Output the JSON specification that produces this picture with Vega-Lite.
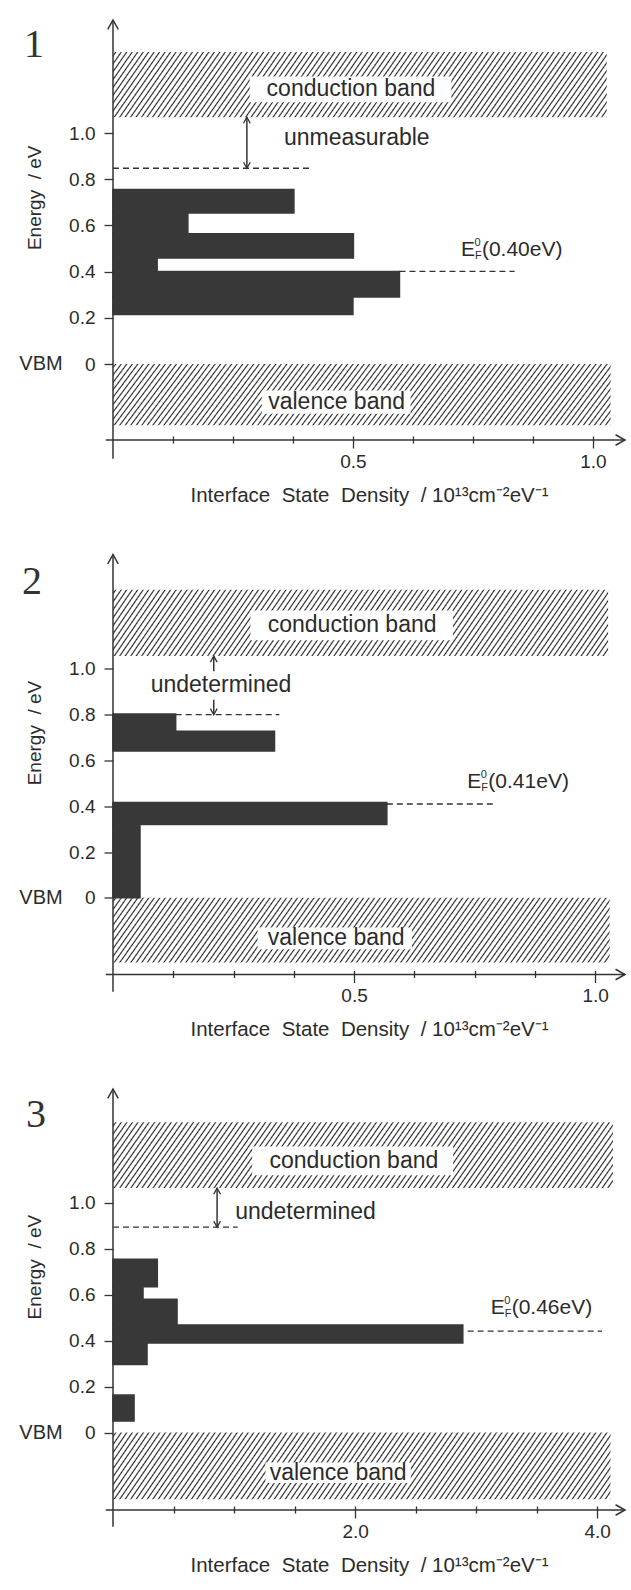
{
"$schema":"https://vega.github.io/schema/vega-lite/v6.json",
"padding":{"left":19,"top":17,"right":0,"bottom":0},
"bounds":"flush",
"spacing":114.5,
"config":{
 "view":{"stroke":null},
 "axis":{"domain":false,"grid":false,"tickColor":"#333","tickWidth":1.3,"labelColor":"#2b2b2b","labelFont":"Liberation Sans","labelFontSize":19,"titleFont":"Liberation Sans","titleFontWeight":"normal","titleColor":"#2b2b2b","titleFontSize":20.5},
 "axisX":{"tickSize":7,"offset":-4,"labelPadding":4,"titlePadding":14,"labelFontSize":19,"labelFlush":false,"labelOverlap":false},
 "axisY":{"tickSize":9,"labelPadding":9,"labelOverlap":false},
 "rect":{"stroke":null,"fill":{"gradient":"linear","x1":0,"y1":0,"x2":1.1,"y2":0.1011,"stops":[
{"offset":0.0026,"color":"#fff"},{"offset":0.005,"color":"#222"},{"offset":0.0074,"color":"#fff"},
{"offset":0.0126,"color":"#fff"},{"offset":0.015,"color":"#222"},{"offset":0.0174,"color":"#fff"},
{"offset":0.0226,"color":"#fff"},{"offset":0.025,"color":"#222"},{"offset":0.0274,"color":"#fff"},
{"offset":0.0326,"color":"#fff"},{"offset":0.035,"color":"#222"},{"offset":0.0374,"color":"#fff"},
{"offset":0.0426,"color":"#fff"},{"offset":0.045,"color":"#222"},{"offset":0.0474,"color":"#fff"},
{"offset":0.0526,"color":"#fff"},{"offset":0.055,"color":"#222"},{"offset":0.0574,"color":"#fff"},
{"offset":0.0626,"color":"#fff"},{"offset":0.065,"color":"#222"},{"offset":0.0674,"color":"#fff"},
{"offset":0.0726,"color":"#fff"},{"offset":0.075,"color":"#222"},{"offset":0.0774,"color":"#fff"},
{"offset":0.0826,"color":"#fff"},{"offset":0.085,"color":"#222"},{"offset":0.0874,"color":"#fff"},
{"offset":0.0926,"color":"#fff"},{"offset":0.095,"color":"#222"},{"offset":0.0974,"color":"#fff"},
{"offset":0.1026,"color":"#fff"},{"offset":0.105,"color":"#222"},{"offset":0.1074,"color":"#fff"},
{"offset":0.1126,"color":"#fff"},{"offset":0.115,"color":"#222"},{"offset":0.1174,"color":"#fff"},
{"offset":0.1226,"color":"#fff"},{"offset":0.125,"color":"#222"},{"offset":0.1274,"color":"#fff"},
{"offset":0.1326,"color":"#fff"},{"offset":0.135,"color":"#222"},{"offset":0.1374,"color":"#fff"},
{"offset":0.1426,"color":"#fff"},{"offset":0.145,"color":"#222"},{"offset":0.1474,"color":"#fff"},
{"offset":0.1526,"color":"#fff"},{"offset":0.155,"color":"#222"},{"offset":0.1574,"color":"#fff"},
{"offset":0.1626,"color":"#fff"},{"offset":0.165,"color":"#222"},{"offset":0.1674,"color":"#fff"},
{"offset":0.1726,"color":"#fff"},{"offset":0.175,"color":"#222"},{"offset":0.1774,"color":"#fff"},
{"offset":0.1826,"color":"#fff"},{"offset":0.185,"color":"#222"},{"offset":0.1874,"color":"#fff"},
{"offset":0.1926,"color":"#fff"},{"offset":0.195,"color":"#222"},{"offset":0.1974,"color":"#fff"},
{"offset":0.2026,"color":"#fff"},{"offset":0.205,"color":"#222"},{"offset":0.2074,"color":"#fff"},
{"offset":0.2126,"color":"#fff"},{"offset":0.215,"color":"#222"},{"offset":0.2174,"color":"#fff"},
{"offset":0.2226,"color":"#fff"},{"offset":0.225,"color":"#222"},{"offset":0.2274,"color":"#fff"},
{"offset":0.2326,"color":"#fff"},{"offset":0.235,"color":"#222"},{"offset":0.2374,"color":"#fff"},
{"offset":0.2426,"color":"#fff"},{"offset":0.245,"color":"#222"},{"offset":0.2474,"color":"#fff"},
{"offset":0.2526,"color":"#fff"},{"offset":0.255,"color":"#222"},{"offset":0.2574,"color":"#fff"},
{"offset":0.2626,"color":"#fff"},{"offset":0.265,"color":"#222"},{"offset":0.2674,"color":"#fff"},
{"offset":0.2726,"color":"#fff"},{"offset":0.275,"color":"#222"},{"offset":0.2774,"color":"#fff"},
{"offset":0.2826,"color":"#fff"},{"offset":0.285,"color":"#222"},{"offset":0.2874,"color":"#fff"},
{"offset":0.2926,"color":"#fff"},{"offset":0.295,"color":"#222"},{"offset":0.2974,"color":"#fff"},
{"offset":0.3026,"color":"#fff"},{"offset":0.305,"color":"#222"},{"offset":0.3074,"color":"#fff"},
{"offset":0.3126,"color":"#fff"},{"offset":0.315,"color":"#222"},{"offset":0.3174,"color":"#fff"},
{"offset":0.3226,"color":"#fff"},{"offset":0.325,"color":"#222"},{"offset":0.3274,"color":"#fff"},
{"offset":0.3326,"color":"#fff"},{"offset":0.335,"color":"#222"},{"offset":0.3374,"color":"#fff"},
{"offset":0.3426,"color":"#fff"},{"offset":0.345,"color":"#222"},{"offset":0.3474,"color":"#fff"},
{"offset":0.3526,"color":"#fff"},{"offset":0.355,"color":"#222"},{"offset":0.3574,"color":"#fff"},
{"offset":0.3626,"color":"#fff"},{"offset":0.365,"color":"#222"},{"offset":0.3674,"color":"#fff"},
{"offset":0.3726,"color":"#fff"},{"offset":0.375,"color":"#222"},{"offset":0.3774,"color":"#fff"},
{"offset":0.3826,"color":"#fff"},{"offset":0.385,"color":"#222"},{"offset":0.3874,"color":"#fff"},
{"offset":0.3926,"color":"#fff"},{"offset":0.395,"color":"#222"},{"offset":0.3974,"color":"#fff"},
{"offset":0.4026,"color":"#fff"},{"offset":0.405,"color":"#222"},{"offset":0.4074,"color":"#fff"},
{"offset":0.4126,"color":"#fff"},{"offset":0.415,"color":"#222"},{"offset":0.4174,"color":"#fff"},
{"offset":0.4226,"color":"#fff"},{"offset":0.425,"color":"#222"},{"offset":0.4274,"color":"#fff"},
{"offset":0.4326,"color":"#fff"},{"offset":0.435,"color":"#222"},{"offset":0.4374,"color":"#fff"},
{"offset":0.4426,"color":"#fff"},{"offset":0.445,"color":"#222"},{"offset":0.4474,"color":"#fff"},
{"offset":0.4526,"color":"#fff"},{"offset":0.455,"color":"#222"},{"offset":0.4574,"color":"#fff"},
{"offset":0.4626,"color":"#fff"},{"offset":0.465,"color":"#222"},{"offset":0.4674,"color":"#fff"},
{"offset":0.4726,"color":"#fff"},{"offset":0.475,"color":"#222"},{"offset":0.4774,"color":"#fff"},
{"offset":0.4826,"color":"#fff"},{"offset":0.485,"color":"#222"},{"offset":0.4874,"color":"#fff"},
{"offset":0.4926,"color":"#fff"},{"offset":0.495,"color":"#222"},{"offset":0.4974,"color":"#fff"},
{"offset":0.5026,"color":"#fff"},{"offset":0.505,"color":"#222"},{"offset":0.5074,"color":"#fff"},
{"offset":0.5126,"color":"#fff"},{"offset":0.515,"color":"#222"},{"offset":0.5174,"color":"#fff"},
{"offset":0.5226,"color":"#fff"},{"offset":0.525,"color":"#222"},{"offset":0.5274,"color":"#fff"},
{"offset":0.5326,"color":"#fff"},{"offset":0.535,"color":"#222"},{"offset":0.5374,"color":"#fff"},
{"offset":0.5426,"color":"#fff"},{"offset":0.545,"color":"#222"},{"offset":0.5474,"color":"#fff"},
{"offset":0.5526,"color":"#fff"},{"offset":0.555,"color":"#222"},{"offset":0.5574,"color":"#fff"},
{"offset":0.5626,"color":"#fff"},{"offset":0.565,"color":"#222"},{"offset":0.5674,"color":"#fff"},
{"offset":0.5726,"color":"#fff"},{"offset":0.575,"color":"#222"},{"offset":0.5774,"color":"#fff"},
{"offset":0.5826,"color":"#fff"},{"offset":0.585,"color":"#222"},{"offset":0.5874,"color":"#fff"},
{"offset":0.5926,"color":"#fff"},{"offset":0.595,"color":"#222"},{"offset":0.5974,"color":"#fff"},
{"offset":0.6026,"color":"#fff"},{"offset":0.605,"color":"#222"},{"offset":0.6074,"color":"#fff"},
{"offset":0.6126,"color":"#fff"},{"offset":0.615,"color":"#222"},{"offset":0.6174,"color":"#fff"},
{"offset":0.6226,"color":"#fff"},{"offset":0.625,"color":"#222"},{"offset":0.6274,"color":"#fff"},
{"offset":0.6326,"color":"#fff"},{"offset":0.635,"color":"#222"},{"offset":0.6374,"color":"#fff"},
{"offset":0.6426,"color":"#fff"},{"offset":0.645,"color":"#222"},{"offset":0.6474,"color":"#fff"},
{"offset":0.6526,"color":"#fff"},{"offset":0.655,"color":"#222"},{"offset":0.6574,"color":"#fff"},
{"offset":0.6626,"color":"#fff"},{"offset":0.665,"color":"#222"},{"offset":0.6674,"color":"#fff"},
{"offset":0.6726,"color":"#fff"},{"offset":0.675,"color":"#222"},{"offset":0.6774,"color":"#fff"},
{"offset":0.6826,"color":"#fff"},{"offset":0.685,"color":"#222"},{"offset":0.6874,"color":"#fff"},
{"offset":0.6926,"color":"#fff"},{"offset":0.695,"color":"#222"},{"offset":0.6974,"color":"#fff"},
{"offset":0.7026,"color":"#fff"},{"offset":0.705,"color":"#222"},{"offset":0.7074,"color":"#fff"},
{"offset":0.7126,"color":"#fff"},{"offset":0.715,"color":"#222"},{"offset":0.7174,"color":"#fff"},
{"offset":0.7226,"color":"#fff"},{"offset":0.725,"color":"#222"},{"offset":0.7274,"color":"#fff"},
{"offset":0.7326,"color":"#fff"},{"offset":0.735,"color":"#222"},{"offset":0.7374,"color":"#fff"},
{"offset":0.7426,"color":"#fff"},{"offset":0.745,"color":"#222"},{"offset":0.7474,"color":"#fff"},
{"offset":0.7526,"color":"#fff"},{"offset":0.755,"color":"#222"},{"offset":0.7574,"color":"#fff"},
{"offset":0.7626,"color":"#fff"},{"offset":0.765,"color":"#222"},{"offset":0.7674,"color":"#fff"},
{"offset":0.7726,"color":"#fff"},{"offset":0.775,"color":"#222"},{"offset":0.7774,"color":"#fff"},
{"offset":0.7826,"color":"#fff"},{"offset":0.785,"color":"#222"},{"offset":0.7874,"color":"#fff"},
{"offset":0.7926,"color":"#fff"},{"offset":0.795,"color":"#222"},{"offset":0.7974,"color":"#fff"},
{"offset":0.8026,"color":"#fff"},{"offset":0.805,"color":"#222"},{"offset":0.8074,"color":"#fff"},
{"offset":0.8126,"color":"#fff"},{"offset":0.815,"color":"#222"},{"offset":0.8174,"color":"#fff"},
{"offset":0.8226,"color":"#fff"},{"offset":0.825,"color":"#222"},{"offset":0.8274,"color":"#fff"},
{"offset":0.8326,"color":"#fff"},{"offset":0.835,"color":"#222"},{"offset":0.8374,"color":"#fff"},
{"offset":0.8426,"color":"#fff"},{"offset":0.845,"color":"#222"},{"offset":0.8474,"color":"#fff"},
{"offset":0.8526,"color":"#fff"},{"offset":0.855,"color":"#222"},{"offset":0.8574,"color":"#fff"},
{"offset":0.8626,"color":"#fff"},{"offset":0.865,"color":"#222"},{"offset":0.8674,"color":"#fff"},
{"offset":0.8726,"color":"#fff"},{"offset":0.875,"color":"#222"},{"offset":0.8774,"color":"#fff"},
{"offset":0.8826,"color":"#fff"},{"offset":0.885,"color":"#222"},{"offset":0.8874,"color":"#fff"},
{"offset":0.8926,"color":"#fff"},{"offset":0.895,"color":"#222"},{"offset":0.8974,"color":"#fff"},
{"offset":0.9026,"color":"#fff"},{"offset":0.905,"color":"#222"},{"offset":0.9074,"color":"#fff"},
{"offset":0.9126,"color":"#fff"},{"offset":0.915,"color":"#222"},{"offset":0.9174,"color":"#fff"},
{"offset":0.9226,"color":"#fff"},{"offset":0.925,"color":"#222"},{"offset":0.9274,"color":"#fff"},
{"offset":0.9326,"color":"#fff"},{"offset":0.935,"color":"#222"},{"offset":0.9374,"color":"#fff"},
{"offset":0.9426,"color":"#fff"},{"offset":0.945,"color":"#222"},{"offset":0.9474,"color":"#fff"},
{"offset":0.9526,"color":"#fff"},{"offset":0.955,"color":"#222"},{"offset":0.9574,"color":"#fff"},
{"offset":0.9626,"color":"#fff"},{"offset":0.965,"color":"#222"},{"offset":0.9674,"color":"#fff"},
{"offset":0.9726,"color":"#fff"},{"offset":0.975,"color":"#222"},{"offset":0.9774,"color":"#fff"},
{"offset":0.9826,"color":"#fff"},{"offset":0.985,"color":"#222"},{"offset":0.9874,"color":"#fff"}
]}}
},
"vconcat":[
{
"width":512,"height":420,
"encoding":{
 "x":{"field":"x1","type":"quantitative","scale":{"domain":[0,1.067],"nice":false,"zero":false},"axis":{"values":[0.125,0.25,0.375,0.5,0.625,0.75,0.875,1],"tickSize":{"condition":{"test":"datum.value == 0.5 || datum.value == 1","value":12},"value":7},"labelExpr":"(datum.value == 0.5 || datum.value == 1) ? format(datum.value, '.1f') : ''","title":"Interface\u00a0 State\u00a0 Density\u00a0 /\u00a010¹³cm⁻²eV⁻¹"}},
 "y":{"field":"y1","type":"quantitative","scale":{"domain":[-0.329,1.49],"nice":false,"zero":false},"axis":{"values":[0,0.2,0.4,0.6,0.8,1],"labelExpr":"datum.value == 0 ? '0' : format(datum.value, '.1f')","title":null}}
},
"layer":[
 {"data":{"values":[{"x1":0,"x2":1.029,"y1":1.069,"y2":1.351},{"x1":0,"x2":1.037,"y1":-0.265,"y2":0}]},"mark":{"type":"rect"},"encoding":{"x2":{"field":"x2"},"y2":{"field":"y2"}}},
 {"data":{"values":[{"x1":0.285,"x2":0.705,"y1":1.134,"y2":1.245},{"x1":0.31,"x2":0.62,"y1":-0.215,"y2":-0.115}]},"mark":{"type":"bar","fill":"#ffffff"},"encoding":{"x2":{"field":"x2"},"y2":{"field":"y2"}}},
 {"data":{"values":[{"x1":0,"y1":0.215,"y2":0.29,"d":0.50},{"x1":0,"y1":0.29,"y2":0.401,"d":0.597},{"x1":0,"y1":0.401,"y2":0.459,"d":0.092},{"x1":0,"y1":0.459,"y2":0.564,"d":0.501},{"x1":0,"y1":0.564,"y2":0.654,"d":0.156},{"x1":0,"y1":0.654,"y2":0.756,"d":0.377}]},"mark":{"type":"bar","fill":"#383838","stroke":"#383838","strokeWidth":1.5},"encoding":{"x2":{"field":"d"},"y2":{"field":"y2"}}},
 {"data":{"values":[{"x1":0,"x2":0.41,"y1":0.848},{"x1":0.597,"x2":0.837,"y1":0.401}]},"mark":{"type":"rule","stroke":"#333","strokeWidth":1.3,"strokeDash":[6,4]},"encoding":{"x2":{"field":"x2"}}},
 {"data":{"values":[{"x1":0,"x2":0,"y1":-0.41,"y2":1.49},{"x1":-0.015,"x2":1.067,"y1":-0.329,"y2":-0.329},{"x1":0.279,"x2":0.279,"y1":0.848,"y2":1.069}]},"mark":{"type":"rule","stroke":"#333","strokeWidth":1.5},"encoding":{"x2":{"field":"x2"},"y2":{"field":"y2"}}},
 {"data":{"values":[{"x1":0,"y1":1.49,"dir":"up"},{"x1":1.067,"y1":-0.329,"dir":"right"}]},"mark":{"type":"point","filled":false,"stroke":"#333","strokeWidth":1.5,"size":110,"opacity":1},"encoding":{"shape":{"field":"dir","type":"nominal","scale":{"domain":["up","down","right"],"range":["M-1,1.8L0,0L1,1.8","M-1,-1.8L0,0L1,-1.8","M-1.8,-1L0,0L-1.8,1"]},"legend":null}}},
 {"data":{"values":[{"x1":0.279,"y1":1.069,"dir":"up"},{"x1":0.279,"y1":0.848,"dir":"down"}]},"mark":{"type":"point","filled":false,"stroke":"#333","strokeWidth":1.3,"size":45,"opacity":1},"encoding":{"shape":{"field":"dir","type":"nominal","scale":{"domain":["up","down","right"],"range":["M-1,1.8L0,0L1,1.8","M-1,-1.8L0,0L1,-1.8","M-1.8,-1L0,0L-1.8,1"]},"legend":null}}},
 {"data":{"values":[{"x1":0.496,"y1":1.192,"t":"conduction band"},{"x1":0.466,"y1":-0.165,"t":"valence band"},{"x1":0.508,"y1":0.978,"t":"unmeasurable"}]},"mark":{"type":"text","font":"Liberation Sans","fontSize":23,"fill":"#2b2b2b","align":"center","baseline":"middle"},"encoding":{"text":{"field":"t"}}},
 {"data":{"values":[{"x1":0.725,"y1":0.468,"t":"(0.40eV)"}]},"mark":{"type":"text","text":"E","font":"Liberation Sans","fontSize":21,"fill":"#2b2b2b","align":"left","baseline":"alphabetic"}},
 {"data":{"values":[{"x1":0.725,"y1":0.468,"t":"(0.40eV)"}]},"mark":{"type":"text","text":"0","font":"Liberation Sans","fontSize":11,"dx":13.5,"dy":-9.5,"fill":"#2b2b2b","align":"left","baseline":"alphabetic"}},
 {"data":{"values":[{"x1":0.725,"y1":0.468,"t":"(0.40eV)"}]},"mark":{"type":"text","text":"F","font":"Liberation Sans","fontSize":11,"dx":14,"dy":3,"fill":"#2b2b2b","align":"left","baseline":"alphabetic"}},
 {"data":{"values":[{"x1":0.725,"y1":0.468,"t":"(0.40eV)"}]},"mark":{"type":"text","font":"Liberation Sans","fontSize":21,"dx":21,"fill":"#2b2b2b","align":"left","baseline":"alphabetic"},"encoding":{"text":{"field":"t"}}},
 {"data":{"values":[{"x1":0,"y1":1.38,"t":"1"}]},"mark":{"type":"text","font":"Liberation Serif","fontSize":40,"dx":-79,"fill":"#333","align":"center","baseline":"middle"},"encoding":{"text":{"field":"t"}}},
 {"data":{"values":[{"x1":0,"y1":0,"t":"VBM"}]},"mark":{"type":"text","font":"Liberation Sans","fontSize":20,"dx":-72,"fill":"#2b2b2b","align":"center","baseline":"middle"},"encoding":{"text":{"field":"t"}}},
 {"data":{"values":[{"x1":0,"y1":0.72,"t":"Energy\u00a0 / eV"}]},"mark":{"type":"text","font":"Liberation Sans","fontSize":19,"angle":270,"dy":-78,"fill":"#2b2b2b","align":"center","baseline":"middle"},"encoding":{"text":{"field":"t"}}}
]
},
{
"width":512,"height":420,
"encoding":{
 "x":{"field":"x1","type":"quantitative","scale":{"domain":[0,1.062],"nice":false,"zero":false},"axis":{"values":[0.125,0.25,0.375,0.5,0.625,0.75,0.875,1],"tickSize":{"condition":{"test":"datum.value == 0.5 || datum.value == 1","value":12},"value":7},"labelExpr":"(datum.value == 0.5 || datum.value == 1) ? format(datum.value, '.1f') : ''","title":"Interface\u00a0 State\u00a0 Density\u00a0 /\u00a010¹³cm⁻²eV⁻¹"}},
 "y":{"field":"y1","type":"quantitative","scale":{"domain":[-0.335,1.5],"nice":false,"zero":false},"axis":{"values":[0,0.2,0.4,0.6,0.8,1],"labelExpr":"datum.value == 0 ? '0' : format(datum.value, '.1f')","title":null}}
},
"layer":[
 {"data":{"values":[{"x1":0,"x2":1.027,"y1":1.056,"y2":1.346},{"x1":0,"x2":1.03,"y1":-0.283,"y2":0}]},"mark":{"type":"rect"},"encoding":{"x2":{"field":"x2"},"y2":{"field":"y2"}}},
 {"data":{"values":[{"x1":0.285,"x2":0.705,"y1":1.125,"y2":1.255},{"x1":0.3,"x2":0.62,"y1":-0.225,"y2":-0.13}]},"mark":{"type":"bar","fill":"#ffffff"},"encoding":{"x2":{"field":"x2"},"y2":{"field":"y2"}}},
 {"data":{"values":[{"x1":0,"y1":0,"y2":0.32,"d":0.056},{"x1":0,"y1":0.32,"y2":0.416,"d":0.568},{"x1":0,"y1":0.642,"y2":0.728,"d":0.335},{"x1":0,"y1":0.728,"y2":0.803,"d":0.13}]},"mark":{"type":"bar","fill":"#383838","stroke":"#383838","strokeWidth":1.5},"encoding":{"x2":{"field":"d"},"y2":{"field":"y2"}}},
 {"data":{"values":[{"x1":0.13,"x2":0.345,"y1":0.8},{"x1":0.568,"x2":0.795,"y1":0.41}]},"mark":{"type":"rule","stroke":"#333","strokeWidth":1.3,"strokeDash":[6,4]},"encoding":{"x2":{"field":"x2"}}},
 {"data":{"values":[{"x1":0,"x2":0,"y1":-0.41,"y2":1.5},{"x1":-0.015,"x2":1.062,"y1":-0.335,"y2":-0.335},{"x1":0.209,"x2":0.209,"y1":0.99,"y2":1.056},{"x1":0.209,"x2":0.209,"y1":0.8,"y2":0.865}]},"mark":{"type":"rule","stroke":"#333","strokeWidth":1.5},"encoding":{"x2":{"field":"x2"},"y2":{"field":"y2"}}},
 {"data":{"values":[{"x1":0,"y1":1.5,"dir":"up"},{"x1":1.062,"y1":-0.335,"dir":"right"}]},"mark":{"type":"point","filled":false,"stroke":"#333","strokeWidth":1.5,"size":110,"opacity":1},"encoding":{"shape":{"field":"dir","type":"nominal","scale":{"domain":["up","down","right"],"range":["M-1,1.8L0,0L1,1.8","M-1,-1.8L0,0L1,-1.8","M-1.8,-1L0,0L-1.8,1"]},"legend":null}}},
 {"data":{"values":[{"x1":0.209,"y1":1.056,"dir":"up"},{"x1":0.209,"y1":0.8,"dir":"down"}]},"mark":{"type":"point","filled":false,"stroke":"#333","strokeWidth":1.3,"size":45,"opacity":1},"encoding":{"shape":{"field":"dir","type":"nominal","scale":{"domain":["up","down","right"],"range":["M-1,1.8L0,0L1,1.8","M-1,-1.8L0,0L1,-1.8","M-1.8,-1L0,0L-1.8,1"]},"legend":null}}},
 {"data":{"values":[{"x1":0.496,"y1":1.19,"t":"conduction band"},{"x1":0.463,"y1":-0.177,"t":"valence band"},{"x1":0.224,"y1":0.932,"t":"undetermined"}]},"mark":{"type":"text","font":"Liberation Sans","fontSize":23,"fill":"#2b2b2b","align":"center","baseline":"middle"},"encoding":{"text":{"field":"t"}}},
 {"data":{"values":[{"x1":0.735,"y1":0.48,"t":"(0.41eV)"}]},"mark":{"type":"text","text":"E","font":"Liberation Sans","fontSize":21,"fill":"#2b2b2b","align":"left","baseline":"alphabetic"}},
 {"data":{"values":[{"x1":0.735,"y1":0.48,"t":"(0.41eV)"}]},"mark":{"type":"text","text":"0","font":"Liberation Sans","fontSize":11,"dx":13.5,"dy":-9.5,"fill":"#2b2b2b","align":"left","baseline":"alphabetic"}},
 {"data":{"values":[{"x1":0.735,"y1":0.48,"t":"(0.41eV)"}]},"mark":{"type":"text","text":"F","font":"Liberation Sans","fontSize":11,"dx":14,"dy":3,"fill":"#2b2b2b","align":"left","baseline":"alphabetic"}},
 {"data":{"values":[{"x1":0.735,"y1":0.48,"t":"(0.41eV)"}]},"mark":{"type":"text","font":"Liberation Sans","fontSize":21,"dx":21,"fill":"#2b2b2b","align":"left","baseline":"alphabetic"},"encoding":{"text":{"field":"t"}}},
 {"data":{"values":[{"x1":0,"y1":1.38,"t":"2"}]},"mark":{"type":"text","font":"Liberation Serif","fontSize":40,"dx":-81,"fill":"#333","align":"center","baseline":"middle"},"encoding":{"text":{"field":"t"}}},
 {"data":{"values":[{"x1":0,"y1":0,"t":"VBM"}]},"mark":{"type":"text","font":"Liberation Sans","fontSize":20,"dx":-72,"fill":"#2b2b2b","align":"center","baseline":"middle"},"encoding":{"text":{"field":"t"}}},
 {"data":{"values":[{"x1":0,"y1":0.72,"t":"Energy\u00a0 / eV"}]},"mark":{"type":"text","font":"Liberation Sans","fontSize":19,"angle":270,"dy":-78,"fill":"#2b2b2b","align":"center","baseline":"middle"},"encoding":{"text":{"field":"t"}}}
]
},
{
"width":512,"height":421,
"encoding":{
 "x":{"field":"x1","type":"quantitative","scale":{"domain":[0,4.23],"nice":false,"zero":false},"axis":{"values":[0.5,1,1.5,2,2.5,3,3.5,4],"tickSize":{"condition":{"test":"datum.value == 2 || datum.value == 4","value":12},"value":7},"labelExpr":"(datum.value == 2 || datum.value == 4) ? format(datum.value, '.1f') : ''","title":"Interface\u00a0 State\u00a0 Density\u00a0 /\u00a010¹³cm⁻²eV⁻¹"}},
 "y":{"field":"y1","type":"quantitative","scale":{"domain":[-0.337,1.495],"nice":false,"zero":false},"axis":{"values":[0,0.2,0.4,0.6,0.8,1],"labelExpr":"datum.value == 0 ? '0' : format(datum.value, '.1f')","title":null}}
},
"layer":[
 {"data":{"values":[{"x1":0,"x2":4.13,"y1":1.064,"y2":1.35},{"x1":0,"x2":4.11,"y1":-0.29,"y2":0}]},"mark":{"type":"rect"},"encoding":{"x2":{"field":"x2"},"y2":{"field":"y2"}}},
 {"data":{"values":[{"x1":1.15,"x2":2.81,"y1":1.12,"y2":1.245},{"x1":1.26,"x2":2.46,"y1":-0.22,"y2":-0.13}]},"mark":{"type":"bar","fill":"#ffffff"},"encoding":{"x2":{"field":"x2"},"y2":{"field":"y2"}}},
 {"data":{"values":[{"x1":0,"y1":0.05,"y2":0.163,"d":0.174},{"x1":0,"y1":0.296,"y2":0.39,"d":0.281},{"x1":0,"y1":0.39,"y2":0.468,"d":2.89},{"x1":0,"y1":0.468,"y2":0.58,"d":0.529},{"x1":0,"y1":0.58,"y2":0.634,"d":0.248},{"x1":0,"y1":0.634,"y2":0.754,"d":0.366}]},"mark":{"type":"bar","fill":"#383838","stroke":"#383838","strokeWidth":1.5},"encoding":{"x2":{"field":"d"},"y2":{"field":"y2"}}},
 {"data":{"values":[{"x1":0,"x2":1.03,"y1":0.894},{"x1":2.93,"x2":4.04,"y1":0.441}]},"mark":{"type":"rule","stroke":"#333","strokeWidth":1.3,"strokeDash":[6,4]},"encoding":{"x2":{"field":"x2"}}},
 {"data":{"values":[{"x1":0,"x2":0,"y1":-0.41,"y2":1.495},{"x1":-0.06,"x2":4.23,"y1":-0.337,"y2":-0.337},{"x1":0.86,"x2":0.86,"y1":0.894,"y2":1.064}]},"mark":{"type":"rule","stroke":"#333","strokeWidth":1.5},"encoding":{"x2":{"field":"x2"},"y2":{"field":"y2"}}},
 {"data":{"values":[{"x1":0,"y1":1.495,"dir":"up"},{"x1":4.23,"y1":-0.337,"dir":"right"}]},"mark":{"type":"point","filled":false,"stroke":"#333","strokeWidth":1.5,"size":110,"opacity":1},"encoding":{"shape":{"field":"dir","type":"nominal","scale":{"domain":["up","down","right"],"range":["M-1,1.8L0,0L1,1.8","M-1,-1.8L0,0L1,-1.8","M-1.8,-1L0,0L-1.8,1"]},"legend":null}}},
 {"data":{"values":[{"x1":0.86,"y1":1.064,"dir":"up"},{"x1":0.86,"y1":0.894,"dir":"down"}]},"mark":{"type":"point","filled":false,"stroke":"#333","strokeWidth":1.3,"size":45,"opacity":1},"encoding":{"shape":{"field":"dir","type":"nominal","scale":{"domain":["up","down","right"],"range":["M-1,1.8L0,0L1,1.8","M-1,-1.8L0,0L1,-1.8","M-1.8,-1L0,0L-1.8,1"]},"legend":null}}},
 {"data":{"values":[{"x1":1.99,"y1":1.18,"t":"conduction band"},{"x1":1.86,"y1":-0.175,"t":"valence band"},{"x1":1.59,"y1":0.96,"t":"undetermined"}]},"mark":{"type":"text","font":"Liberation Sans","fontSize":23,"fill":"#2b2b2b","align":"center","baseline":"middle"},"encoding":{"text":{"field":"t"}}},
 {"data":{"values":[{"x1":3.12,"y1":0.517,"t":"(0.46eV)"}]},"mark":{"type":"text","text":"E","font":"Liberation Sans","fontSize":21,"fill":"#2b2b2b","align":"left","baseline":"alphabetic"}},
 {"data":{"values":[{"x1":3.12,"y1":0.517,"t":"(0.46eV)"}]},"mark":{"type":"text","text":"0","font":"Liberation Sans","fontSize":11,"dx":13.5,"dy":-9.5,"fill":"#2b2b2b","align":"left","baseline":"alphabetic"}},
 {"data":{"values":[{"x1":3.12,"y1":0.517,"t":"(0.46eV)"}]},"mark":{"type":"text","text":"F","font":"Liberation Sans","fontSize":11,"dx":14,"dy":3,"fill":"#2b2b2b","align":"left","baseline":"alphabetic"}},
 {"data":{"values":[{"x1":3.12,"y1":0.517,"t":"(0.46eV)"}]},"mark":{"type":"text","font":"Liberation Sans","fontSize":21,"dx":21,"fill":"#2b2b2b","align":"left","baseline":"alphabetic"},"encoding":{"text":{"field":"t"}}},
 {"data":{"values":[{"x1":0,"y1":1.38,"t":"3"}]},"mark":{"type":"text","font":"Liberation Serif","fontSize":40,"dx":-77,"fill":"#333","align":"center","baseline":"middle"},"encoding":{"text":{"field":"t"}}},
 {"data":{"values":[{"x1":0,"y1":0,"t":"VBM"}]},"mark":{"type":"text","font":"Liberation Sans","fontSize":20,"dx":-72,"fill":"#2b2b2b","align":"center","baseline":"middle"},"encoding":{"text":{"field":"t"}}},
 {"data":{"values":[{"x1":0,"y1":0.72,"t":"Energy\u00a0 / eV"}]},"mark":{"type":"text","font":"Liberation Sans","fontSize":19,"angle":270,"dy":-78,"fill":"#2b2b2b","align":"center","baseline":"middle"},"encoding":{"text":{"field":"t"}}}
]
}
]
}
